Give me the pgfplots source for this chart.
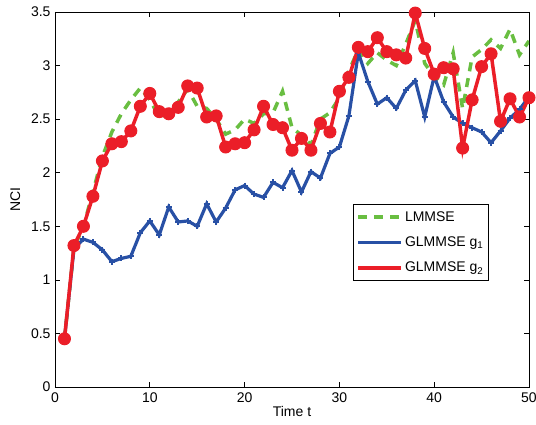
\documentclass[border=0pt]{standalone}
\usepackage{pgfplots}
\pgfplotsset{compat=1.18}
\usepackage{fontspec}
\setmainfont{Liberation Sans}
\definecolor{cgreen}{RGB}{105,190,65}
\definecolor{cblue}{RGB}{40,80,165}
\definecolor{cred}{RGB}{235,30,40}
\newcommand{\myfont}{\fontsize{14pt}{16pt}\selectfont}
\begin{document}
\begin{tikzpicture}[font=\myfont]
\begin{axis}[
  scale only axis,
  width=474pt, height=375pt,
  xmin=0, xmax=50, ymin=0, ymax=3.5,
  xtick={0,10,...,50},
  ytick={0,0.5,...,3.5},
  tick align=inside,
  tick style={black, line width=0.6pt},
  major tick length=5pt,
  axis line style={black, line width=0.8pt},
  /pgf/number format/assume math mode=true,
  every tick label/.append style={font=\myfont},
  every axis label/.append style={font=\myfont},
  xticklabel style={yshift=-2pt},
  yticklabel style={xshift=-1pt},
  xlabel={Time t},
  ylabel={NCI},
  xlabel style={yshift=3pt},
  ylabel shift=4pt,
  legend style={at={(0.629,0.4875)}, anchor=north west, draw=black, line width=0.8pt,
    font=\myfont, row sep=10pt, inner sep=3pt, inner ysep=5pt},
  legend cell align=left,
  legend image code/.code={
    \draw[#1] (0pt,0pt) -- (21.5pt,0pt) -- (43pt,0pt);
  },
]
\addplot[cgreen, line width=3.5pt, dash pattern=on 9pt off 7pt] coordinates {
(1,0.45) (2,1.30) (3,1.50) (4,1.82) (5,2.15) (6,2.38) (7,2.55) (8,2.68) (9,2.79) (10,2.68)
(11,2.52) (12,2.55) (13,2.66) (14,2.78) (15,2.62) (16,2.60) (17,2.50) (18,2.36) (19,2.40) (20,2.50)
(21,2.46) (22,2.55) (23,2.56) (24,2.76) (25,2.42) (26,2.35) (27,2.26) (28,2.50) (29,2.56) (30,2.70)
(31,2.95) (32,3.15) (33,3.02) (34,3.12) (35,3.05) (36,3.00) (37,3.20) (38,3.42) (39,3.02) (40,2.90)
(41,2.82) (42,3.12) (43,2.60) (44,3.08) (45,3.15) (46,3.24) (47,3.16) (48,3.34) (49,3.10) (50,3.23)
};
\addlegendentry{LMMSE}
\addplot[cblue, line width=3.2pt, mark=+, mark size=3pt, mark options={line width=2pt}] coordinates {
(1,0.45) (2,1.29) (3,1.38) (4,1.35) (5,1.28) (6,1.17) (7,1.20) (8,1.22) (9,1.44) (10,1.55)
(11,1.42) (12,1.68) (13,1.54) (14,1.55) (15,1.50) (16,1.71) (17,1.54) (18,1.67) (19,1.84) (20,1.88)
(21,1.80) (22,1.77) (23,1.91) (24,1.86) (25,2.02) (26,1.82) (27,2.01) (28,1.95) (29,2.18) (30,2.24)
(31,2.53) (32,3.12) (33,2.85) (34,2.64) (35,2.70) (36,2.60) (37,2.77) (38,2.86) (39,2.52) (40,2.90)
(41,2.66) (42,2.52) (43,2.46) (44,2.42) (45,2.38) (46,2.28) (47,2.39) (48,2.51) (49,2.59) (50,2.71)
};
\addlegendentry{GLMMSE g\textsubscript{1}}
\addplot[cred, line width=3.5pt, mark=*, mark size=6pt, mark options={line width=1pt, fill=cred}] coordinates {
(1,0.45) (2,1.32) (3,1.50) (4,1.78) (5,2.11) (6,2.27) (7,2.29) (8,2.39) (9,2.62) (10,2.74)
(11,2.57) (12,2.55) (13,2.61) (14,2.81) (15,2.79) (16,2.52) (17,2.53) (18,2.24) (19,2.27) (20,2.28)
(21,2.40) (22,2.62) (23,2.45) (24,2.42) (25,2.21) (26,2.32) (27,2.21) (28,2.46) (29,2.38) (30,2.76)
(31,2.89) (32,3.17) (33,3.13) (34,3.26) (35,3.13) (36,3.10) (37,3.07) (38,3.49) (39,3.16) (40,2.92)
(41,2.98) (42,2.97) (43,2.23) (44,2.68) (45,2.99) (46,3.11) (47,2.48) (48,2.69) (49,2.52) (50,2.70)
};
\addlegendentry{GLMMSE g\textsubscript{2}}
\end{axis}
\pgfresetboundingbox
\path (current axis.south west) +(-55pt,-38pt) (current axis.north east) +(7pt,12pt);
\end{tikzpicture}
\end{document}
